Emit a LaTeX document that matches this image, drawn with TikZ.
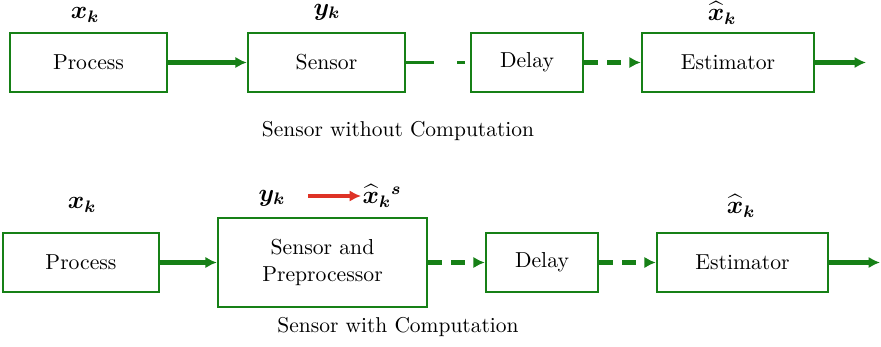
\documentclass[tikz,border=0pt]{standalone}
\usepackage{amsmath,bm}
\usetikzlibrary{arrows.meta}
\definecolor{gr}{RGB}{22,128,22}
\definecolor{rd}{RGB}{222,50,38}
\tikzset{
  blk/.style={draw=gr, line width=1.1pt, inner sep=0pt, minimum height=28.3pt, align=center, font=\fontsize{10.4}{12.8}\selectfont},
  thickarr/.style={draw=gr, line width=2pt, -{Latex[length=5.5pt,width=5.5pt]}},
  dasharr/.style={thickarr, dash pattern=on 6.5pt off 4.5pt},
  thinline/.style={draw=gr, line width=1pt, dash pattern=on 13.4pt off 11pt on 4pt off 5pt},
  lbl/.style={inner sep=0pt, font=\large},
  captxt/.style={inner sep=0pt, font=\fontsize{10.3}{12.4}\selectfont}
}
\begin{document}
\begin{tikzpicture}[x=0.48pt, y=-0.48pt]
\useasboundingbox (0,0) rectangle (881,346);
% top row
\node[blk, minimum width=75.4pt] (p1) at (88.5,62.5) {Process};
\node[blk, minimum width=75.4pt] (s1) at (326.5,62.5) {Sensor};
\node[blk, minimum width=53.8pt] (d1) at (527,62.5) {Delay};
\node[blk, minimum width=82.6pt] (e1) at (728,62.5) {Estimator};
\coordinate (o1) at (866,62.5);
\draw[thickarr] (p1) -- (s1);
\draw[thinline] (s1) -- (d1);
\draw[dasharr] (d1) -- (e1);
\draw[thickarr] (e1) -- (o1);
\node[lbl] (xk1) at (85,15) {$\bm{x}_{\bm{k}}$};
\node[lbl] (yk1) at (327,12) {$\bm{y}_{\bm{k}}$};
\node[lbl] (xh1) at (722,13) {$\widehat{\bm{x}}_{\bm{k}}$};
\node[captxt] (c1) at (398,131) {Sensor without Computation};
% bottom row
\node[blk, minimum width=74.9pt] (p2) at (81,262.5) {Process};
\node[blk, minimum width=100.3pt, minimum height=42.7pt] (s2) at (322.5,262.5) {Sensor and\\Preprocessor};
\node[blk, minimum width=53.8pt] (d2) at (542,262.5) {Delay};
\node[blk, minimum width=82.1pt] (e2) at (742.5,262.5) {Estimator};
\coordinate (o2) at (880,262.5);
\draw[thickarr] (p2) -- (s2);
\draw[dasharr] (s2) -- (d2);
\draw[dasharr] (d2) -- (e2);
\draw[thickarr] (e2) -- (o2);
\node[lbl] (xk2) at (82,205) {$\bm{x}_{\bm{k}}$};
\node[lbl] (yk2) at (272,198) {$\bm{y}_{\bm{k}}$};
\node[lbl] (xs2) at (382,196) {$\widehat{\bm{x}}_{\bm{k}}{}^{\bm{s}}$};
\coordinate (ra) at (308,196);
\coordinate (rb) at (361,196);
\draw[draw=rd, line width=2pt, -{Latex[length=5.5pt,width=5.5pt]}] (ra) -- (rb);
\node[lbl] (xh2) at (741,206) {$\widehat{\bm{x}}_{\bm{k}}$};
\node[captxt] (c2) at (398,327) {Sensor with Computation};
\end{tikzpicture}
\end{document}
